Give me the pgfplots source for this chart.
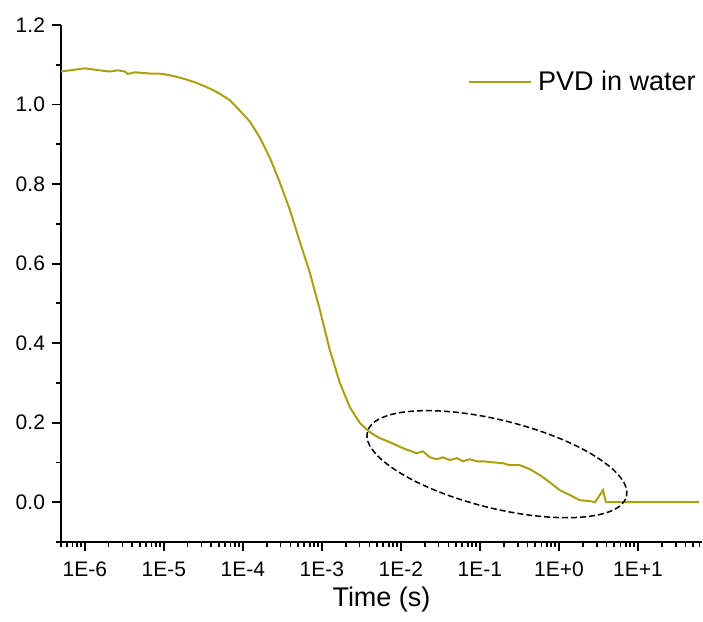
\documentclass[border=0pt]{standalone}
\usepackage{pgfplots}
\pgfplotsset{compat=1.18}
\usepackage{fontspec}
\setmainfont{Liberation Sans}
\definecolor{pvd}{RGB}{170,160,20}
\begin{document}
\begin{tikzpicture}
\begin{axis}[
 name=ax, scale only axis, width=320.5pt, height=258.5pt,
 xmode=log, log basis x=10, xmin=5e-7, xmax=64.6, ymin=-0.1, ymax=1.2,
 axis x line=bottom, axis y line=left,
 axis line style={-, line width=1pt, black},
 tick align=outside, major tick length=4.5pt, minor tick length=2.5pt,
 every tick/.append style={black, line width=0.9pt},
 xtick={1e-6,1e-5,1e-4,1e-3,1e-2,1e-1,1,10},
 xticklabels={1E-6,1E-5,1E-4,1E-3,1E-2,1E-1,1E+0,1E+1},
 minor xtick={5e-7,6e-7,7e-7,8e-7,9e-7,
   2e-6,3e-6,4e-6,5e-6,6e-6,7e-6,8e-6,9e-6,
   2e-5,3e-5,4e-5,5e-5,6e-5,7e-5,8e-5,9e-5,
   2e-4,3e-4,4e-4,5e-4,6e-4,7e-4,8e-4,9e-4,
   2e-3,3e-3,4e-3,5e-3,6e-3,7e-3,8e-3,9e-3,
   2e-2,3e-2,4e-2,5e-2,6e-2,7e-2,8e-2,9e-2,
   0.2,0.3,0.4,0.5,0.6,0.7,0.8,0.9,
   2,3,4,5,6,7,8,9,20,30,40,50,60},
 ytick={0,0.2,0.4,0.6,0.8,1.0,1.2},
 minor ytick={-0.1,0.1,0.3,0.5,0.7,0.9,1.1},
 /pgf/number format/assume math mode=true,
 yticklabel style={/pgf/number format/.cd, fixed, fixed zerofill, precision=1},
 tick label style={font=\fontsize{10.5}{12}\selectfont},
 xticklabel style={yshift=-2pt},
 xlabel={Time (s)},
 label style={font=\fontsize{13.5}{16}\selectfont},
 xlabel style={at={(axis description cs:0.5,-0.112)}, anchor=center},
 legend style={draw=none, fill=none, at={(rel axis cs:0.635,0.890)}, anchor=west,
   inner sep=0pt, outer sep=0pt, font=\fontsize{13.5}{16}\selectfont, nodes={inner sep=0pt}},
 legend image code/.code={\draw[#1] (0pt,0pt) -- (31pt,0pt); \path (34pt,0pt);},
]
\addplot[pvd, line width=1pt] coordinates {
(4.97e-7,1.083) (1e-6,1.091) (1.55e-6,1.086) (2.07e-6,1.083) (2.62e-6,1.086)
(3.21e-6,1.083) (3.5e-6,1.077) (4.3e-6,1.081) (6.65e-6,1.078) (8.4e-6,1.078)
(1.03e-5,1.076) (1.38e-5,1.071) (1.85e-5,1.064) (2.47e-5,1.056) (3.3e-5,1.046)
(4.42e-5,1.034) (5.12e-5,1.027) (6.85e-5,1.011) (9.16e-5,0.985) (1.23e-4,0.957)
(1.64e-4,0.917) (2.2e-4,0.866) (2.94e-4,0.804) (3.94e-4,0.735) (5.27e-4,0.655)
(7.05e-4,0.577) (9.43e-4,0.484) (1.26e-3,0.383) (1.69e-3,0.300) (2.26e-3,0.239)
(3.03e-3,0.199) (4.05e-3,0.176) (5.42e-3,0.161) (7.26e-3,0.151) (1.06e-2,0.136)
(1.59e-2,0.123) (1.9e-2,0.128) (2.33e-2,0.113) (2.86e-2,0.108) (3.4e-2,0.113)
(4.17e-2,0.106) (5.12e-2,0.111) (6.1e-2,0.103) (7.47e-2,0.108) (9.16e-2,0.103)
(0.109,0.103) (0.134,0.101) (0.196,0.098) (0.24,0.093) (0.321,0.093)
(0.43,0.083) (0.575,0.068) (0.769,0.050) (1.03,0.030) (1.38,0.018)
(1.84,0.005) (2.47,0.003) (2.86,0.0) (3.61,0.030) (3.93,0.0) (59.2,0.0)
};
\addlegendentry{PVD in water}
\coordinate (ec) at (axis cs:0.164,0.0957);
\end{axis}
\draw[black, line width=0.75pt, dash pattern=on 3pt off 1.5pt, rotate around={-14:(ec)}]
  (ec) ellipse [x radius=66.75pt, y radius=22pt];
\pgfresetboundingbox
\path ([xshift=-30.5pt,yshift=-40pt]ax.south west) rectangle ([xshift=0.5pt,yshift=12.5pt]ax.north east);
\end{tikzpicture}
\end{document}
